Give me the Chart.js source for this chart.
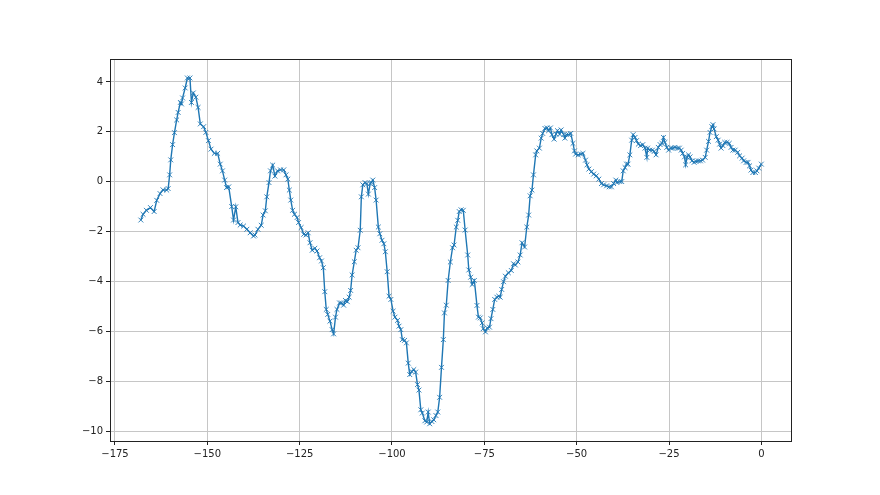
<!DOCTYPE html>
<html>
<head>
<meta charset="utf-8">
<script src="https://cdn.jsdelivr.net/npm/chart.js@4"></script>
<style>
html,body{margin:0;padding:0;background:#fff;}
#c{display:block;}
</style>
</head>
<body>
<canvas id="c" width="880" height="495"></canvas>
<script>
const xValues = [
-168.0,-167.4,-166.5,-165.4,-164.4,-163.7,-162.8,-162.0,-161.0,-160.6,-160.2,-159.9,-159.4,-158.9,-158.3,-157.9,-157.3,-157.0,-156.7,-156.0,
-155.4,-154.7,-154.3,-153.8,-153.1,-152.5,-151.9,-151.0,-150.4,-149.7,-149.0,-148.1,-147.2,-146.5,-145.9,-145.3,-144.8,-144.2,-143.4,-142.9,
-142.3,-141.7,-141.1,-140.2,-139.3,-138.4,-137.5,-137.1,-136.3,-135.4,-134.9,-134.3,-133.9,-133.3,-132.9,-132.3,-131.7,-131.0,-130.2,-129.3,
-128.7,-128.2,-127.8,-127.4,-126.9,-126.4,-125.7,-125.3,-124.6,-123.9,-123.3,-122.7,-122.2,-121.6,-120.9,-120.3,-119.6,-119.1,-118.6,-118.2,
-117.8,-117.4,-116.8,-116.2,-115.8,-115.3,-114.9,-114.2,-113.7,-113.1,-112.6,-112.1,-111.6,-111.2,-110.8,-110.2,-109.7,-109.2,-108.6,-108.3,
-107.9,-107.3,-106.8,-106.4,-105.9,-105.6,-105.2,-104.7,-104.3,-103.7,-103.3,-102.7,-102.2,-101.8,-101.3,-100.8,-100.3,-99.7,-99.2,-98.5,
-98.1,-97.6,-97.2,-96.6,-96.1,-95.6,-95.2,-94.7,-94.1,-93.6,-93.1,-92.7,-92.2,-91.8,-91.1,-90.6,-90.2,-89.8,-89.2,-88.7,
-88.1,-87.6,-87.1,-86.6,-86.1,-85.8,-85.3,-84.8,-84.2,-83.6,-83.2,-82.6,-82.2,-81.8,-81.3,-80.7,-80.2,-79.5,-79.2,-78.7,
-78.3,-77.7,-77.0,-76.6,-76.1,-75.6,-75.3,-74.7,-74.2,-73.6,-73.2,-72.7,-72.2,-71.6,-71.1,-70.7,-70.3,-69.8,-69.3,-68.5,
-67.7,-67.1,-66.6,-65.9,-65.3,-64.8,-64.1,-63.5,-63.0,-62.6,-62.1,-61.7,-61.1,-60.8,-60.1,-59.6,-59.2,-58.6,-58.0,-57.6,
-57.1,-56.7,-56.1,-55.6,-55.2,-54.6,-54.2,-53.5,-53.2,-52.8,-52.2,-51.6,-51.0,-50.6,-50.3,-49.6,-48.9,-48.3,-47.6,-47.2,
-46.7,-46.0,-45.4,-44.7,-44.0,-43.3,-42.7,-41.9,-41.2,-40.6,-40.0,-39.4,-39.1,-38.3,-37.8,-37.4,-36.9,-36.5,-36.1,-35.6,
-35.1,-34.7,-34.2,-33.8,-33.3,-32.7,-32.1,-31.5,-31.0,-30.8,-30.2,-29.5,-29.0,-28.5,-27.9,-27.4,-26.9,-26.5,-26.1,-25.6,
-25.1,-24.5,-24.0,-23.4,-22.7,-22.2,-21.7,-21.3,-20.8,-20.5,-20.1,-19.7,-19.3,-18.8,-18.2,-17.7,-17.1,-16.5,-15.9,-15.2,
-14.8,-14.3,-13.9,-13.4,-13.1,-12.8,-12.2,-11.7,-11.3,-10.9,-10.4,-9.9,-9.3,-8.7,-8.2,-7.7,-7.1,-6.4,-5.9,-5.2,
-4.8,-4.1,-3.6,-3.2,-2.8,-2.3,-1.6,-1.2,-0.7,0.0
];
const yValues = [
-1.53,-1.30,-1.14,-1.03,-1.19,-0.74,-0.47,-0.32,-0.33,-0.27,0.28,0.88,1.49,1.97,2.48,2.78,3.18,3.12,3.36,3.76,
4.16,4.16,3.18,3.56,3.39,2.98,2.32,2.21,1.98,1.65,1.31,1.14,1.14,0.71,0.44,0.07,-0.23,-0.20,-0.99,-1.53,
-1.00,-1.63,-1.73,-1.77,-1.90,-2.04,-2.17,-2.13,-1.90,-1.74,-1.33,-1.16,-0.60,-0.03,0.44,0.67,0.23,0.44,0.48,0.48,
0.28,0.11,-0.33,-0.73,-1.14,-1.30,-1.43,-1.63,-1.83,-2.10,-2.13,-2.04,-2.44,-2.74,-2.66,-2.77,-3.04,-3.17,-3.44,-4.40,
-5.11,-5.31,-5.58,-5.92,-6.09,-5.42,-5.11,-4.85,-4.85,-4.94,-4.75,-4.80,-4.62,-4.35,-3.73,-3.20,-2.74,-2.64,-1.94,-0.60,
-0.12,-0.03,-0.07,-0.49,-0.07,-0.03,0.07,-0.23,-0.73,-1.81,-2.08,-2.34,-2.48,-2.80,-3.60,-4.58,-4.71,-5.18,-5.42,-5.55,
-5.78,-5.92,-6.32,-6.35,-6.45,-7.26,-7.72,-7.59,-7.52,-7.62,-8.12,-8.34,-9.13,-9.26,-9.57,-9.62,-9.22,-9.69,-9.60,-9.53,
-9.36,-9.22,-8.63,-7.43,-6.32,-5.25,-4.94,-3.95,-3.21,-2.64,-2.53,-1.81,-1.54,-1.19,-1.12,-1.14,-1.93,-2.93,-3.53,-3.82,
-4.11,-3.95,-4.95,-5.42,-5.45,-5.65,-5.88,-6.01,-5.85,-5.82,-5.48,-5.11,-4.71,-4.62,-4.58,-4.62,-4.31,-4.00,-3.78,-3.64,
-3.55,-3.28,-3.33,-3.21,-2.93,-2.44,-2.61,-1.81,-1.33,-0.56,-0.33,0.28,1.08,1.24,1.35,1.75,1.94,2.14,2.16,2.05,
2.16,1.89,1.71,1.91,2.05,1.91,2.08,1.89,1.75,1.89,1.89,1.94,1.54,1.24,1.11,1.08,1.11,1.14,0.87,0.68,
0.51,0.41,0.31,0.24,0.11,-0.07,-0.12,-0.16,-0.20,-0.20,-0.07,0.07,-0.03,0.01,0.01,0.44,0.57,0.71,0.71,1.08,
1.67,1.89,1.78,1.65,1.51,1.45,1.49,1.35,0.98,1.35,1.27,1.27,1.22,1.08,1.38,1.49,1.54,1.78,1.58,1.38,
1.27,1.35,1.35,1.38,1.35,1.35,1.27,1.14,1.00,0.68,0.98,1.08,1.00,0.84,0.78,0.82,0.84,0.84,0.87,0.98,
1.27,1.62,1.98,2.21,2.29,2.12,1.81,1.67,1.51,1.35,1.45,1.58,1.58,1.54,1.38,1.27,1.27,1.18,1.04,0.95,
0.84,0.78,0.78,0.64,0.47,0.37,0.37,0.44,0.55,0.71
];
const xTickValues = [-175, -150, -125, -100, -75, -50, -25, 0];
const yTickValues = [-10, -8, -6, -4, -2, 0, 2, 4];

const points = xValues.map((x, i) => ({x: x, y: yValues[i]}));
const fmt = v => (v < 0 ? '\u2212' + Math.abs(v) : String(v));

const frame = {
  id: 'frame',
  afterDatasetsDraw(chart) {
    const a = chart.chartArea, ctx = chart.ctx;
    ctx.save();
    ctx.strokeStyle = '#222';
    ctx.lineWidth = 1;
    ctx.strokeRect(Math.round(a.left) + 0.5, Math.round(a.top) + 0.5,
                   Math.round(a.right - a.left) - 1, Math.round(a.bottom - a.top));
    ctx.restore();
  }
};

Chart.defaults.font.family = 'DejaVu Sans';
Chart.defaults.font.size = 10;
Chart.defaults.color = '#222';

new Chart(document.getElementById('c'), {
  type: 'scatter',
  data: {
    datasets: [{
      data: points,
      showLine: true,
      borderColor: '#1f77b4',
      borderWidth: 1.4,
      pointStyle: 'crossRot',
      pointRadius: 3.4,
      pointBorderWidth: 0.9,
      pointBorderColor: '#1f77b4',
      pointBackgroundColor: '#1f77b4',
      tension: 0
    }]
  },
  options: {
    responsive: false,
    animation: false,
    devicePixelRatio: 1,
    layout: {padding: {left: 0, top: 59, right: 88, bottom: 0}},
    plugins: {legend: {display: false}, tooltip: {enabled: false}},
    scales: {
      x: {
        type: 'linear',
        min: -176.35,
        max: 8.3,
        afterBuildTicks: s => { s.ticks = xTickValues.map(v => ({value: v})); },
        afterFit: s => { s.height = 54; },
        grid: {color: '#c6c6c6', lineWidth: 1, drawTicks: true, tickLength: 4, tickColor: '#222'},
        border: {display: false},
        ticks: {callback: v => fmt(v), maxRotation: 0, padding: 3, autoSkip: false}
      },
      y: {
        type: 'linear',
        min: -10.38,
        max: 4.92,
        afterBuildTicks: s => { s.ticks = yTickValues.map(v => ({value: v})); },
        afterFit: s => { s.width = 110; },
        grid: {color: '#c6c6c6', lineWidth: 1, drawTicks: true, tickLength: 4, tickColor: '#222'},
        border: {display: false},
        ticks: {callback: v => fmt(v), padding: 3, autoSkip: false}
      }
    }
  },
  plugins: [frame]
});
</script>
</body>
</html>
